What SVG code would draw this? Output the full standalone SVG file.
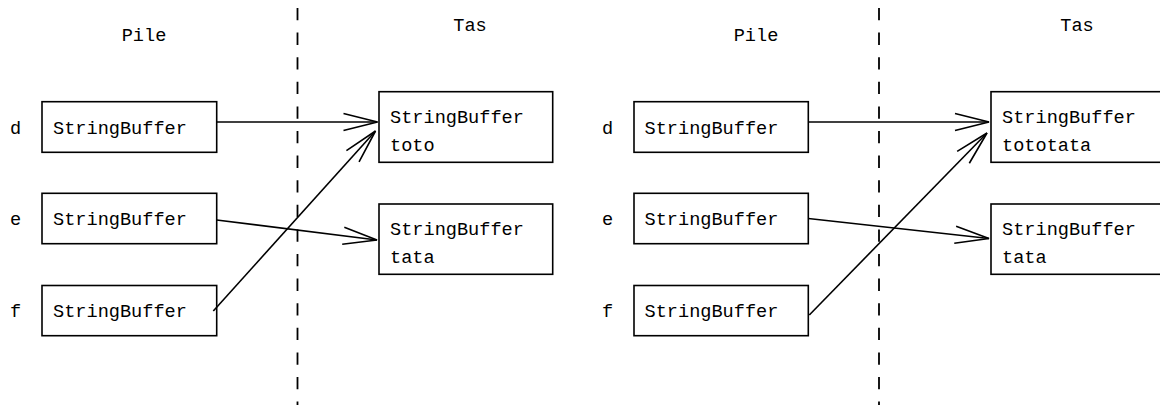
<svg xmlns="http://www.w3.org/2000/svg" width="1160" height="405" viewBox="0 0 1160 405">
  <style>
    .box { fill: #ffffff; stroke: #000000; stroke-width: 1.6; }
    .txt { font-family: "Liberation Mono", "DejaVu Sans Mono", monospace; font-size: 18.6px; fill: #000000; }
    .title { text-anchor: middle; }
    .sep { stroke: #000000; stroke-width: 1.8; stroke-dasharray: 12.3 12.3; fill: none; }
    .ref { stroke: #000000; stroke-width: 1.6; fill: none; marker-end: url(#open); }
  </style>
  <defs>
    <marker id="open" markerUnits="userSpaceOnUse" viewBox="-36 -12 40 24" markerWidth="40" markerHeight="24" refX="0" refY="0" orient="auto" overflow="visible">
      <path d="M -34 -8.5 L 0 0 L -34 8.5" fill="none" stroke="#000000" stroke-width="1.6"/>
    </marker>
  </defs>

  <rect width="1160" height="405" fill="#ffffff"/>

  <!-- section titles and stack/heap separators -->
  <g id="titles">
    <text class="txt title" x="144" y="41">Pile</text>
    <text class="txt title" x="470" y="31">Tas</text>
    <text class="txt title" x="756" y="41">Pile</text>
    <text class="txt title" x="1077" y="31">Tas</text>
  </g>
  <g id="separators">
    <line class="sep" x1="297.5" y1="8" x2="297.5" y2="405"/>
    <line class="sep" x1="879" y1="8" x2="879" y2="405"/>
  </g>

  <!-- first state: stack variables -->
  <g id="var-d-1">
    <text class="txt" x="10" y="133.5">d</text>
    <rect class="box" x="42" y="101.7" width="174.7" height="50.6"/>
    <text class="txt" x="53" y="133.5">StringBuffer</text>
  </g>
  <g id="var-e-1">
    <text class="txt" x="10" y="225">e</text>
    <rect class="box" x="42" y="193.3" width="174.7" height="50.4"/>
    <text class="txt" x="53" y="225">StringBuffer</text>
  </g>
  <g id="var-f-1">
    <text class="txt" x="10" y="317">f</text>
    <rect class="box" x="42" y="285.5" width="174.7" height="50.2"/>
    <text class="txt" x="53" y="317">StringBuffer</text>
  </g>

  <!-- first state: heap objects -->
  <g id="obj-toto">
    <rect class="box" x="379" y="91.7" width="173.7" height="70.6"/>
    <text class="txt" x="390" y="123.3">StringBuffer</text>
    <text class="txt" x="390" y="151">toto</text>
  </g>
  <g id="obj-tata-1">
    <rect class="box" x="379" y="204" width="173.7" height="70.3"/>
    <text class="txt" x="390" y="235">StringBuffer</text>
    <text class="txt" x="390" y="263">tata</text>
  </g>

  <!-- second state: stack variables -->
  <g id="var-d-2">
    <text class="txt" x="602" y="133.5">d</text>
    <rect class="box" x="634" y="101.7" width="174.3" height="50.6"/>
    <text class="txt" x="644.5" y="133.5">StringBuffer</text>
  </g>
  <g id="var-e-2">
    <text class="txt" x="602" y="225">e</text>
    <rect class="box" x="634" y="193.3" width="174.3" height="50.4"/>
    <text class="txt" x="644.5" y="225">StringBuffer</text>
  </g>
  <g id="var-f-2">
    <text class="txt" x="602" y="317">f</text>
    <rect class="box" x="634" y="285.5" width="174.3" height="50.2"/>
    <text class="txt" x="644.5" y="317">StringBuffer</text>
  </g>

  <!-- second state: heap objects -->
  <g id="obj-tototata">
    <rect class="box" x="991" y="91.7" width="174" height="70.6"/>
    <text class="txt" x="1002" y="123.3">StringBuffer</text>
    <text class="txt" x="1002" y="151">tototata</text>
  </g>
  <g id="obj-tata-2">
    <rect class="box" x="991" y="204" width="174" height="70.3"/>
    <text class="txt" x="1002" y="235">StringBuffer</text>
    <text class="txt" x="1002" y="263">tata</text>
  </g>

  <!-- references from variables to objects -->
  <g id="connectors">
    <line class="ref" x1="216.7" y1="122" x2="377.5" y2="122"/>
    <line class="ref" x1="216.7" y1="220" x2="377" y2="240"/>
    <line class="ref" x1="213.3" y1="311" x2="375.5" y2="131"/>
    <line class="ref" x1="808.3" y1="122" x2="989" y2="122"/>
    <line class="ref" x1="808.3" y1="218.5" x2="989" y2="238.5"/>
    <line class="ref" x1="809.3" y1="315" x2="987" y2="133"/>
  </g>
</svg>
